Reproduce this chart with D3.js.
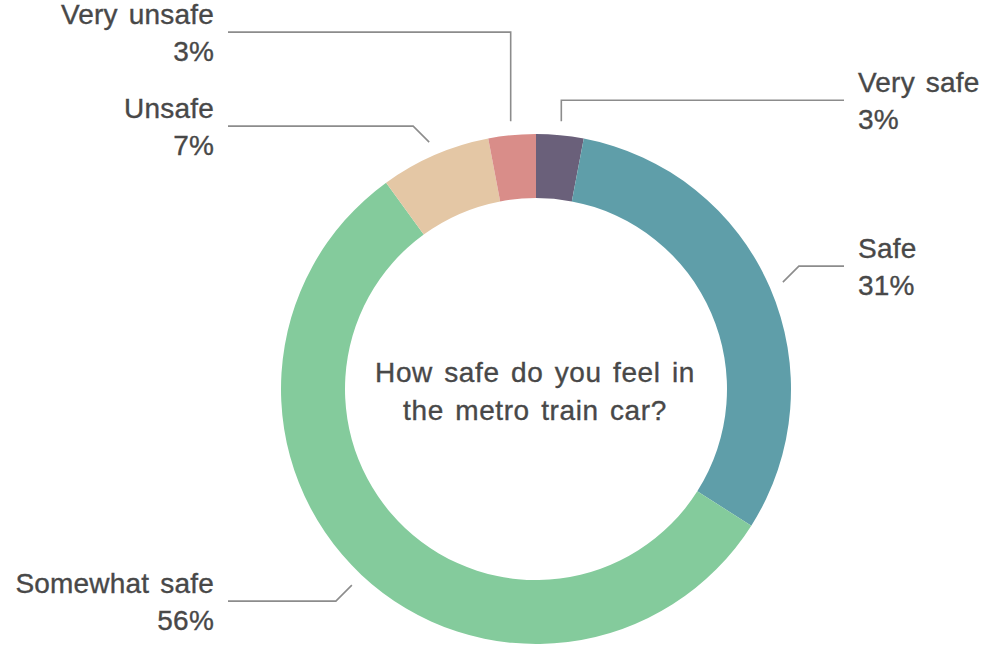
<!DOCTYPE html>
<html>
<head>
<meta charset="utf-8">
<script src="https://cdn.jsdelivr.net/npm/d3@7"></script>
<style>
  html, body { margin: 0; padding: 0; background: #ffffff; }
  svg { display: block; }
  text { font-family: "Liberation Sans", Arial, Helvetica, sans-serif; fill: #484848; stroke: #484848; stroke-width: 0.35px; }
</style>
</head>
<body>
<svg id="chart" width="982" height="647"></svg>
<script>
// ---- data ----
const categories = ["Very safe", "Safe", "Somewhat safe", "Unsafe", "Very unsafe"];
const values = [3, 31, 56, 7, 3];
const colors = ["#6a607a", "#5f9ea9", "#84cb9c", "#e4c7a5", "#d98d89"];
const centerTitle = ["How safe do you feel in", "the metro train car?"];

// ---- layout ----
const W = 982, H = 647;
const cx = 536, cy = 389;
const outerR = 255, innerR = 191;
const leaderR = 269;          // where leader lines start
const lineEndDX = 308;        // horizontal end of leader, from centre
const textDX = 322;           // label text position, from centre
const minGap = 94;            // min vertical spacing between labels on one side
const fontSize = 28, lineH = 37;

const svg = d3.select("#chart");
const g = svg.append("g").attr("transform", `translate(${cx},${cy})`);

const data = categories.map((c, i) => ({ name: c, value: values[i], color: colors[i] }));
const pie = d3.pie().value(d => d.value).sort(null);
const arcs = pie(data);
const arc = d3.arc().innerRadius(innerR).outerRadius(outerR);

g.selectAll("path.slice")
  .data(arcs)
  .join("path")
  .attr("class", "slice")
  .attr("d", arc)
  .attr("fill", d => d.data.color);

// ---- label positions ----
const labels = arcs.map(d => {
  const a = (d.startAngle + d.endAngle) / 2;
  const p0 = [leaderR * Math.sin(a), -leaderR * Math.cos(a)];
  const side = Math.sin(a) >= 0 ? 1 : -1;
  const nearTop = Math.abs(Math.sin(a)) < Math.sin(15 * Math.PI / 180) && Math.cos(a) > 0;
  let y;
  if (nearTop) y = p0[1] - 21;
  else y = p0[1] + (Math.cos(a) > 0 ? -16 : 16);
  return { d, a, p0, side, nearTop, y };
});
// collision avoidance per side: push upward from the bottom
[-1, 1].forEach(s => {
  const L = labels.filter(l => l.side === s).sort((p, q) => q.y - p.y);
  for (let i = 1; i < L.length; i++) {
    if (L[i].y > L[i - 1].y - minGap) L[i].y = L[i - 1].y - minGap;
  }
});

labels.forEach(l => {
  const dy = l.y - l.p0[1];
  const elbow = l.nearTop ? [l.p0[0], l.y] : [l.p0[0] + l.side * Math.abs(dy), l.y];
  const end = [l.side * lineEndDX, l.y];
  g.append("polyline")
    .attr("points", [l.p0, elbow, end].map(p => p.join(",")).join(" "))
    .attr("fill", "none")
    .attr("stroke", "#8c8c8c")
    .attr("stroke-width", 1.6);
  const t = g.append("text")
    .attr("x", l.side * textDX)
    .attr("text-anchor", l.side > 0 ? "start" : "end")
    .style("font-size", fontSize + "px")
    .style("letter-spacing", "0.2px")
    .style("word-spacing", "3px");
  t.append("tspan").attr("x", l.side * textDX).attr("y", l.y - 8).text(l.d.data.name);
  t.append("tspan").attr("x", l.side * textDX).attr("y", l.y - 8 + lineH).text(l.d.data.value + "%");
});

// ---- centre title ----
const ct = g.append("text")
  .attr("text-anchor", "middle")
  .style("font-size", fontSize + "px")
  .style("letter-spacing", "0.6px")
  .style("word-spacing", "3px");
centerTitle.forEach((s, i) => {
  ct.append("tspan").attr("x", -1).attr("y", -7 + i * 38).text(s);
});
</script>
</body>
</html>
